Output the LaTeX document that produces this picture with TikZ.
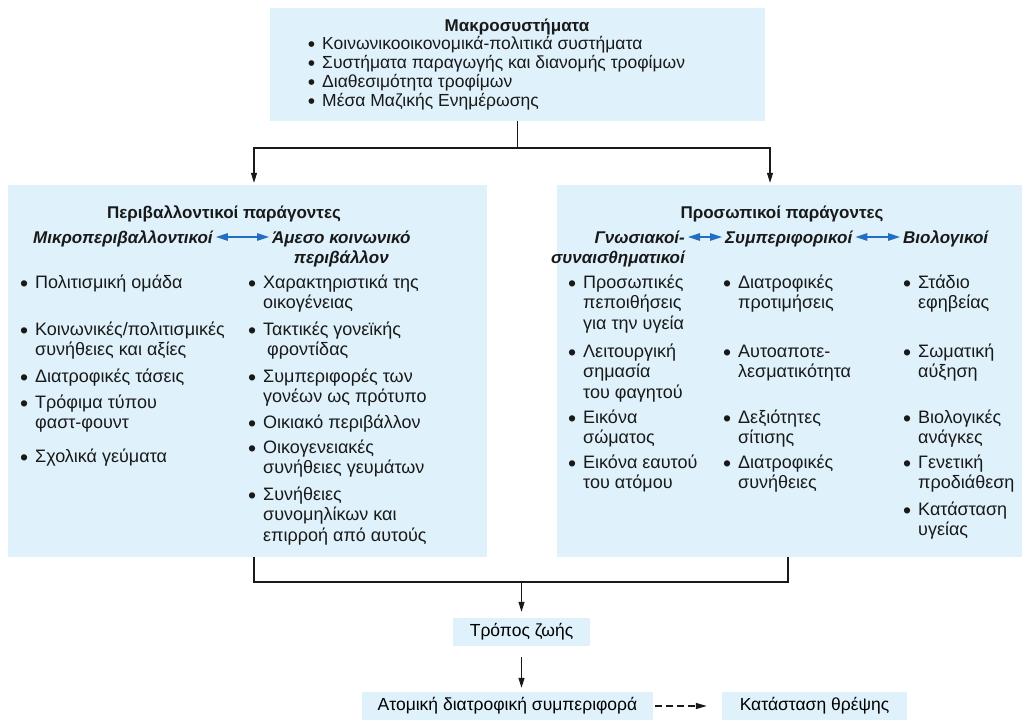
\documentclass[tikz,border=0pt]{standalone}
\usepackage{fontspec}
\setmainfont{Liberation Sans}
\usetikzlibrary{arrows.meta,positioning,calc}
\definecolor{pale}{RGB}{223,241,251}
\definecolor{ink}{RGB}{25,25,25}
\definecolor{pairblue}{RGB}{35,110,195}
\newcommand{\dotitem}{\rule{0pt}{14pt}\llap{\raisebox{-3pt}{\fontsize{23}{23}\selectfont•}\hspace{7pt}}}
\newcommand{\dotsmall}{\llap{\raisebox{-2pt}{\fontsize{21}{21}\selectfont•}\hspace{7pt}}}
\tikzset{panel/.style={fill=pale,draw=none,inner sep=0pt},
  head/.style={font=\fontsize{17}{20.5}\selectfont\bfseries,text=ink,inner sep=0pt},
  sub/.style={font=\fontsize{17}{20.5}\selectfont\bfseries\itshape,text=ink,inner sep=0pt},
  entry/.style={font=\fontsize{18}{20.5}\selectfont,text=ink,align=left,anchor=north west,yshift=14pt,inner sep=0pt},
  link/.style={draw=ink,line width=1.3pt},
  flow/.style={-{Triangle[length=10pt,width=6pt]},draw=ink,line width=1.3pt},
  ref/.style={-{Triangle[length=11pt,width=6pt]},draw=ink,line width=1.3pt,dash pattern=on 7pt off 4pt},
  pair/.style={{Triangle[length=12pt,width=7.5pt]}-{Triangle[length=12pt,width=7.5pt]},draw=pairblue,line width=1.2pt}}

\begin{document}
\begin{tikzpicture}[x=1pt,y=-1pt]
\useasboundingbox (0,0) rectangle (1022,720);
% boxes
\node[panel,minimum width=495pt,minimum height=113pt] (macro) at (517.5,64.5) {};
\node[panel,minimum width=479pt,minimum height=372pt] (env) at (247.5,371) {};
\node[panel,minimum width=465pt,minimum height=372pt] (pers) at (789.5,371) {};
\node[panel,minimum width=137pt,minimum height=28pt,font=\fontsize{17.5}{20.5}\selectfont] (life) at (521.5,632) {Τρόπος ζωής};
\node[panel,minimum width=291pt,minimum height=28pt,font=\fontsize{17.5}{20.5}\selectfont] (behav) at (507.5,706) {Ατομική διατροφική συμπεριφορά};
\node[panel,minimum width=185pt,minimum height=28pt,font=\fontsize{17.5}{20.5}\selectfont] (nutr) at (814.5,706) {Κατάσταση θρέψης};
% macro systems
\node[head,anchor=base] (macrotitle) at (517,31) {Μακροσυστήματα};
\node[head,font=\fontsize{17.5}{19}\selectfont,align=left,anchor=north west] (macrolist) at (322,36) {\dotsmall Κοινωνικοοικονομικά-πολιτικά συστήματα\\
  \dotsmall Συστήματα παραγωγής και διανομής τροφίμων\\
  \dotsmall Διαθεσιμότητα τροφίμων\\
  \dotsmall Μέσα Μαζικής Ενημέρωσης};
% environmental factors
\node[head,anchor=base] (envtitle) at (224,218) {Περιβαλλοντικοί παράγοντες};
\node[sub,anchor=base west] (micro) at (33,243) {Μικροπεριβαλλοντικοί};
\node[sub,anchor=north west,yshift=14pt,align=center] (immed) at (272,243) {\rule{0pt}{14pt}Άμεσο κοινωνικό\\περιβάλλον};
\draw[pair] ($(micro.base east)+(3pt,6pt)$) -- ($(micro.base east -| immed.west)+(-3pt,6pt)$);
\node[entry] (culture) at (35,288) {\dotitem Πολιτισμική ομάδα};
\node[entry] (values) at (35,335) {\dotitem Κοινωνικές/πολιτισμικές\\συνήθειες και αξίες};
\node[entry] (trends) at (35,382) {\dotitem Διατροφικές τάσεις};
\node[entry] (fast) at (35,408) {\dotitem Τρόφιμα τύπου\\φαστ-φουντ};
\node[entry] (school) at (35,462) {\dotitem Σχολικά γεύματα};
\node[entry] (family) at (263,288) {\dotitem Χαρακτηριστικά της\\οικογένειας};
\node[entry] (care) at (263,335) {\dotitem Τακτικές γονεϊκής\\\hspace{4pt}φροντίδας};
\node[entry] (model) at (263,382) {\dotitem Συμπεριφορές των\\γονέων ως πρότυπο};
\node[entry] (home) at (263,428) {\dotitem Οικιακό περιβάλλον};
\node[entry] (meals) at (263,453) {\dotitem Οικογενειακές\\συνήθειες γευμάτων};
\node[entry] (peers) at (263,500) {\dotitem Συνήθειες\\συνομηλίκων και\\επιρροή από αυτούς};
% personal factors
\node[head,anchor=base] (perstitle) at (782,218) {Προσωπικοί παράγοντες};
\node[sub,anchor=north east,yshift=14pt,align=right] (cog) at (685,243) {\rule{0pt}{14pt}Γνωσιακοί-\\συναισθηματικοί};
\node[sub,anchor=base west] (behv) at (725,243) {Συμπεριφορικοί};
\node[sub,anchor=base west] (bio) at (903,243) {Βιολογικοί};
\draw[pair] ($(behv.base -| cog.east)+(3pt,6pt)$) -- ($(behv.base west)+(-3pt,6pt)$);
\draw[pair] ($(behv.base east)+(3pt,6pt)$) -- ($(bio.base west)+(-3pt,6pt)$);
\node[entry] (beliefs) at (583,288) {\dotitem Προσωπικές\\πεποιθήσεις\\για την υγεία};
\node[entry] (meaning) at (583,357) {\dotitem Λειτουργική\\σημασία\\του φαγητού};
\node[entry] (body) at (583,423) {\dotitem Εικόνα\\σώματος};
\node[entry] (self) at (583,468) {\dotitem Εικόνα εαυτού\\του ατόμου};
\node[entry] (prefs) at (738,288) {\dotitem Διατροφικές\\προτιμήσεις};
\node[entry] (efficacy) at (738,357) {\dotitem Αυτοαποτε-\\λεσματικότητα};
\node[entry] (skills) at (738,423) {\dotitem Δεξιότητες\\σίτισης};
\node[entry] (habits) at (738,468) {\dotitem Διατροφικές\\συνήθειες};
\node[entry] (stage) at (918,288) {\dotitem Στάδιο\\εφηβείας};
\node[entry] (growth) at (918,357) {\dotitem Σωματική\\αύξηση};
\node[entry] (needs) at (918,423) {\dotitem Βιολογικές\\ανάγκες};
\node[entry] (genes) at (918,468) {\dotitem Γενετική\\προδιάθεση};
\node[entry] (health) at (918,515) {\dotitem Κατάσταση\\υγείας};
% connectors
\coordinate (forkL) at (254,148);
\coordinate (forkR) at (770,148);
\coordinate (joinL) at (254,582);
\coordinate (joinR) at (788,582);
\draw[flow,shorten >=2pt] (macro.south) |- (forkL) -- (forkL |- env.north);
\draw[flow,shorten >=2pt] (macro.south) |- (forkR) -- (forkR |- pers.north);
\draw[link] (env.south -| joinL) |- (joinR) -- (joinR |- pers.south);
\draw[flow,shorten >=6pt] (life.north |- joinL) -- (life.north);
\draw[flow,shorten <=11pt,shorten >=4pt] (life.south) -- (life.south |- behav.north);
\draw[ref,shorten <=2pt,shorten >=15pt] (behav) -- (nutr);
\end{tikzpicture}
\end{document}
